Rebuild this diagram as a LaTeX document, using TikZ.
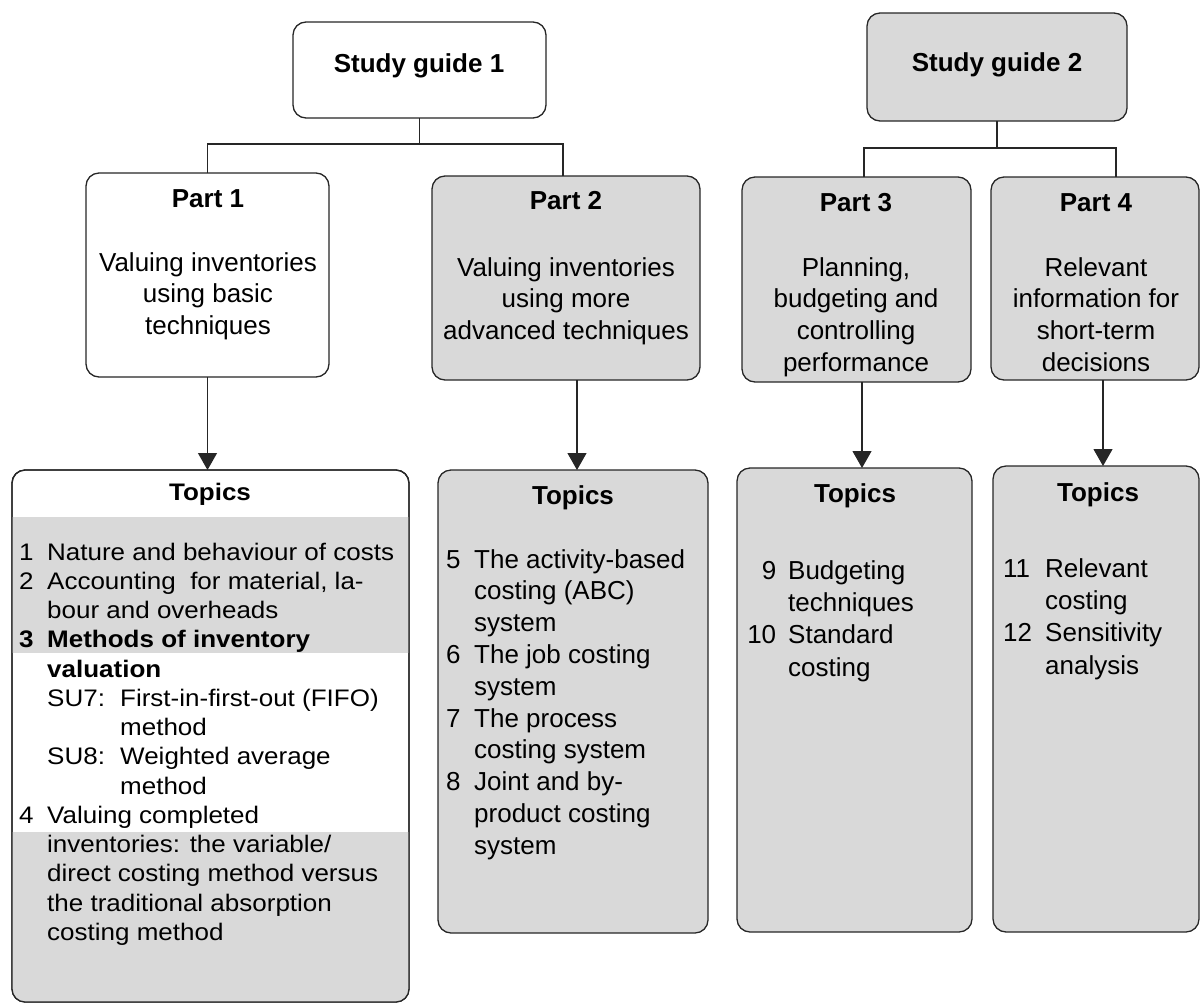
\documentclass[tikz,border=0pt]{standalone}
\usepackage{fontspec}
\usepackage{graphicx}
\setmainfont{Liberation Sans}
\usetikzlibrary{arrows.meta}
\definecolor{boxgray}{RGB}{217,217,217}
\definecolor{edge}{RGB}{38,38,38}
% list helpers: number column and matching indent
\newcommand{\numcol}[1]{\makebox[28pt][l]{#1}}
\newcommand{\indcol}{\hspace*{28pt}}
\newcommand{\rnum}[1]{\makebox[29pt][r]{#1}\hspace{12pt}}
\newcommand{\rind}{\hspace*{41pt}}
\begin{document}
\begin{tikzpicture}[x=1pt,y=-1pt,
  box/.style={draw=edge, line width=1.3pt, rounded corners=13pt, inner sep=0pt, outer sep=0pt},
  shaded/.style={box, fill=boxgray},
  plain/.style={box, fill=white},
  link/.style={draw=black!85, line width=1.2pt},
  arr/.style={link, -{Triangle[width=19pt,length=17pt]}},
  txt/.style={inner sep=0pt, anchor=base, font=\fontsize{26}{31.8}\selectfont},
  ttl/.style={txt, font=\fontsize{26}{31.8}\selectfont\bfseries},
  lst/.style={txt, anchor=base west},
]
\useasboundingbox (0,0) rectangle (1201,1007);

% ---- top level: study guides
\node[plain,  minimum width=253pt, minimum height=96pt]  (sg1) at (419.5,70) {};
\node[shaded, minimum width=260pt, minimum height=108pt] (sg2) at (997,67) {};
\node[ttl] (sg1t) at (419,72) {Study guide 1};
\node[ttl] (sg2t) at (997,71) {Study guide 2};

% ---- parts
\node[plain,  minimum width=243pt, minimum height=204pt] (p1) at (207.5,275) {};
\node[shaded, minimum width=268pt, minimum height=204pt] (p2) at (566,278) {};
\node[shaded, minimum width=229pt, minimum height=205pt] (p3) at (856.5,279.5) {};
\node[shaded, minimum width=208pt, minimum height=203pt] (p4) at (1095,278.5) {};

\node[ttl] (p1t) at (208,207) {Part 1};
\node[ttl] (p2t) at (566,209) {Part 2};
\node[ttl] (p3t) at (856,211) {Part 3};
\node[ttl] (p4t) at (1096,211) {Part 4};

\node[txt] (p1b) at (208,271) {\begin{tabular}[t]{@{}c@{}}Valuing inventories\\ using basic\\ techniques\end{tabular}};
\node[txt] (p2b) at (566,276) {\begin{tabular}[t]{@{}c@{}}Valuing inventories\\ using more\\ advanced techniques\end{tabular}};
\node[txt] (p3b) at (856,276) {\begin{tabular}[t]{@{}c@{}}Planning,\\ budgeting and\\ controlling\\ performance\end{tabular}};
\node[txt] (p4b) at (1096,276) {\begin{tabular}[t]{@{}c@{}}Relevant\\ information for\\ short-term\\ decisions\end{tabular}};

% ---- topic boxes
\node[plain,  minimum width=397pt, minimum height=532pt] (t1) at (210.5,736) {};
\begin{scope}
  \clip[rounded corners=13pt] (t1.north west) rectangle (t1.south east);
  \fill[boxgray] (0,517) rectangle (420,653);
  \fill[boxgray] (0,832) rectangle (420,1010);
\end{scope}
\draw[draw=edge, line width=1.3pt, rounded corners=13pt] (t1.north west) rectangle (t1.south east);
\node[shaded, minimum width=270pt, minimum height=463pt] (t2) at (573,701.5) {};
\node[shaded, minimum width=235pt, minimum height=464pt] (t3) at (854.5,700) {};
\node[shaded, minimum width=206pt, minimum height=466pt] (t4) at (1096,699) {};

\node[ttl] (t1t) at (210,500) {\scalebox{1}[0.92]{Topics}};
\node[ttl] (t2t) at (573,504) {Topics};
\node[ttl] (t3t) at (855,502) {Topics};
\node[ttl] (t4t) at (1098,501) {Topics};

\node[lst] (t1b) at (19,560) {\scalebox{1}[0.92]{\begin{tabular}[t]{@{}l@{}}
\numcol{1}Nature and behaviour of costs\\
\numcol{2}Accounting\ \ for material, la-\\
\indcol bour and overheads\\
\textbf{\numcol{3}Methods of inventory}\\
\indcol\textbf{valuation}\\
\indcol\makebox[73pt][l]{SU7:}First-in-first-out (FIFO)\\
\indcol\hspace*{73pt}method\\
\indcol\makebox[73pt][l]{SU8:}Weighted average\\
\indcol\hspace*{73pt}method\\
\numcol{4}Valuing completed\\
\indcol inventories: the variable/\\
\indcol direct costing method versus\\
\indcol the traditional absorption\\
\indcol costing method
\end{tabular}}};

\node[lst] (t2b) at (446,568) {\begin{tabular}[t]{@{}l@{}}
\numcol{5}The activity-based\\
\indcol costing (ABC)\\
\indcol system\\
\numcol{6}The job costing\\
\indcol system\\
\numcol{7}The process\\
\indcol costing system\\
\numcol{8}Joint and by-\\
\indcol product costing\\
\indcol system
\end{tabular}};

\node[lst] (t3b) at (747,579) {\renewcommand{\arraystretch}{1.02}\begin{tabular}[t]{@{}l@{}}
\rnum{9}Budgeting\\
\rind techniques\\
\rnum{10}Standard\\
\rind costing
\end{tabular}};

\node[lst] (t4b) at (1003,577) {\renewcommand{\arraystretch}{1.02}\begin{tabular}[t]{@{}l@{}}
\makebox[29pt][l]{11}\hspace{13pt}Relevant\\
\hspace*{42pt}costing\\
\makebox[29pt][l]{12}\hspace{13pt}Sensitivity\\
\hspace*{42pt}analysis
\end{tabular}};

% ---- connectors
\coordinate (bus1) at (417,144);
\coordinate (bus2) at (996,148);
\draw[link] (sg1.south) -- (sg1.south |- bus1);
\draw[link] (p1.north) |- (sg1.south |- bus1) -| ([xshift=-3pt]p2.north);
\draw[link] (sg2.south) -- (sg2.south |- bus2);
\draw[link] ([xshift=7.5pt]p3.north) |- (sg2.south |- bus2) -| ([xshift=21pt]p4.north);

\draw[arr] (p1.south) -- (p1.south |- t1.north);
\draw[arr] ([xshift=11pt]p2.south) -- ([xshift=11pt]p2.south |- t2.north);
\draw[arr] ([xshift=5.5pt]p3.south) -- ([xshift=5.5pt]p3.south |- t3.north);
\draw[arr] ([xshift=8pt]p4.south) -- ([xshift=8pt]p4.south |- t4.north);
\end{tikzpicture}
\end{document}
